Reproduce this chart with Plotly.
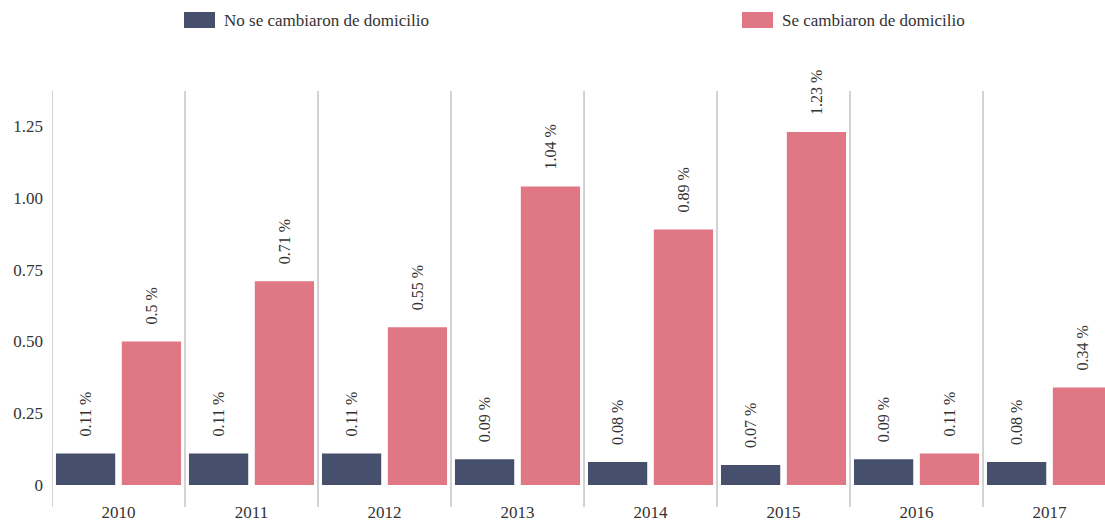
import plotly.graph_objects as go

# Años y porcentajes por grupo
years = ["2010", "2011", "2012", "2013", "2014", "2015", "2016", "2017"]
no_cambiaron = [0.11, 0.11, 0.11, 0.09, 0.08, 0.07, 0.09, 0.08]
se_cambiaron = [0.5, 0.71, 0.55, 1.04, 0.89, 1.23, 0.11, 0.34]
series_names = ["No se cambiaron de domicilio", "Se cambiaron de domicilio"]
y_ticks = [0, 0.25, 0.5, 0.75, 1.0, 1.25]
y_tick_text = ["0", "0.25", "0.50", "0.75", "1.00", "1.25"]

DARK = "#464f6c"
PINK = "#df7784"
FONT = '"Liberation Serif", "Times New Roman", serif'
TEXT = "#333333"

fig = go.Figure()
for name, vals, color in [(series_names[0], no_cambiaron, DARK),
                          (series_names[1], se_cambiaron, PINK)]:
    fig.add_trace(go.Bar(x=list(range(len(years))), y=vals, name=name,
                         marker_color=color, marker_line_width=0,
                         showlegend=False))

# Etiquetas de valor giradas sobre cada barra
for vals, shift in [(no_cambiaron, -33), (se_cambiaron, 33)]:
    for i, v in enumerate(vals):
        fig.add_annotation(x=i, y=v, xref="x", yref="y", text=f"{v} %",
                           textangle=-90, showarrow=False, xshift=shift,
                           yshift=15, yanchor="bottom", xanchor="center",
                           font=dict(family=FONT, size=16, color=TEXT))

# Leyenda dibujada a mano con rectángulos anchos
plot_left, plot_w = 52, 1053
plot_top, plot_h = 91, 416


def px_x(px):
    return (px - plot_left) / plot_w


def px_y(py):
    return 1 + (plot_top - py) / plot_h


for name, color, sx in [(series_names[0], DARK, 184), (series_names[1], PINK, 742)]:
    fig.add_shape(type="rect", xref="paper", yref="paper",
                  x0=px_x(sx), x1=px_x(sx + 31), y0=px_y(28), y1=px_y(12),
                  fillcolor=color, line_width=0)
    fig.add_annotation(xref="paper", yref="paper", x=px_x(sx + 38), y=px_y(20),
                       text=name, showarrow=False, xanchor="left", yanchor="middle",
                       font=dict(family=FONT, size=17, color=TEXT))

fig.update_layout(
    width=1105, height=521,
    margin=dict(l=52, r=0, t=91, b=14, pad=0, autoexpand=False),
    paper_bgcolor="white", plot_bgcolor="white",
    barmode="group", bargap=0.01, bargroupgap=0.1,
    font=dict(family=FONT, size=17, color=TEXT),
    xaxis=dict(type="linear", range=[-0.5, 7.417],
               tickvals=list(range(len(years))), ticktext=years,
               showgrid=False, showline=False, zeroline=False, ticks="",
               automargin=False, ticklabelstandoff=-7,
               tickfont=dict(family=FONT, size=17, color=TEXT)),
    yaxis=dict(range=[-0.0767, 1.373], tickvals=y_ticks, ticktext=y_tick_text,
               showgrid=False, zeroline=False, showline=False, ticks="",
               automargin=False, ticklabelstandoff=8,
               tickfont=dict(family=FONT, size=17, color=TEXT)),
)

# Separadores verticales entre años
for i in range(len(years)):
    fig.add_shape(type="line", xref="x", yref="paper", x0=i - 0.5, x1=i - 0.5,
                  y0=0, y1=1, line=dict(color="#c4c4c4", width=1.5), layer="below")

fig.write_html("out.html")
